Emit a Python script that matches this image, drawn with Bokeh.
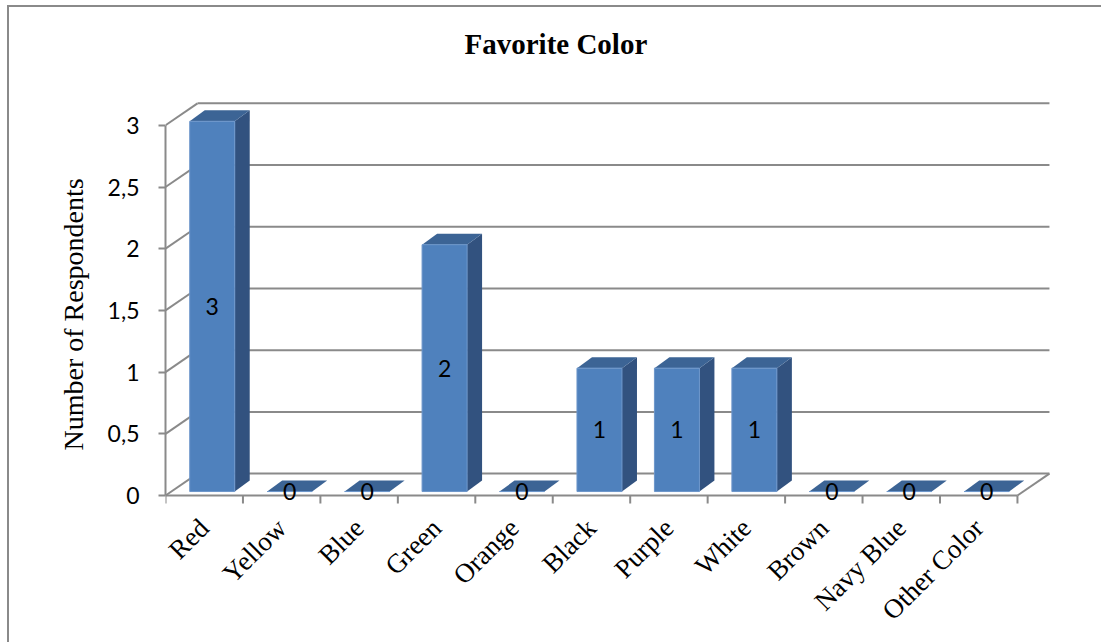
import math
import numpy as np
from bokeh.plotting import figure
from bokeh.models import Range1d, FixedTicker, Title
from bokeh.core.properties import value
from bokeh.embed import file_html
from bokeh.resources import INLINE

# --- data -------------------------------------------------------------
categories = ["Red", "Yellow", "Blue", "Green", "Orange", "Black",
              "Purple", "White", "Brown", "Navy Blue", "Other Color"]
respondents = [3, 0, 0, 2, 0, 1, 1, 1, 0, 0, 0]
y_ticks = [0, 0.5, 1, 1.5, 2, 2.5, 3]
y_tick_labels = ["0", "0,5", "1", "1,5", "2", "2,5", "3"]

# --- pseudo-3D geometry (pixels per data unit and depth offsets) -----
PX_X = 77.45          # one category slot
PX_Y = 123.7          # one respondent
WALL_DX, WALL_DY = 32 / PX_X, 22 / PX_Y        # depth of the back wall
BAR_SHIFT_X, BAR_LIFT = 8 / PX_X, 4 / PX_Y     # bar position inside the box
BAR_HALF = 22.5 / PX_X
BAR_DX, BAR_DY = 15 / PX_X, 11 / PX_Y           # bar thickness
TICK_LEN = 8 / PX_Y

# chart area sits inside a thin left/top border; it runs past the
# right and bottom edges of the page like a cropped sheet
OX, OY = 9, 7
W, H = 1101 - OX + 6, 642 - OY + 6
LEFT, RIGHT, TOP, BOTTOM = 165 - OX, 1060 - OX, 80 - OY, 508 - OY
AXIS_X, AXIS_Y = 165 - OX, 495 - OY      # front corner of the box
GRID_COLOR = "#8a8a8a"

x0 = -0.5 - (AXIS_X - LEFT) / PX_X
y0 = -(BOTTOM - AXIS_Y) / PX_Y

p = figure(width=W, height=H,
           x_range=Range1d(x0, x0 + (RIGHT - LEFT) / PX_X),
           y_range=Range1d(y0, y0 + (BOTTOM - TOP) / PX_Y),
           min_border_left=LEFT, min_border_right=W - RIGHT,
           min_border_top=TOP, min_border_bottom=H - BOTTOM,
           output_backend="svg", toolbar_location=None,
           styles={"margin-left": f"{OX}px", "margin-top": f"{OY}px",
                   "box-shadow": "-2px -2px 0 0 #8a8a8a"})
p.outline_line_color = None
p.xgrid.visible = False
p.ygrid.visible = False
p.background_fill_color = "white"
p.border_fill_color = "white"

# --- titles -------------------------------------------------------------
p.title.text = "Favorite Color"
p.title.text_font = "Liberation Serif"
p.title.text_font_size = "29px"
p.title.text_font_style = "bold"
p.title.text_color = "black"
p.title.align = "left"
p.title.offset = 299
p.title.vertical_align = "top"
p.title.standoff = 40

p.add_layout(Title(text="Number of Respondents", text_font="Liberation Serif",
                   text_font_size="28px", text_font_style="normal",
                   text_color="black", align="left", offset=BOTTOM - 450 + OY,
                   vertical_align="bottom", standoff=32), "left")

# --- back wall, left wall and floor -------------------------------------
n = len(categories)
x_front_left, x_front_right = -0.5, n - 0.5
xb0, xb1 = x_front_left + WALL_DX, x_front_right + WALL_DX

wall_xs, wall_ys = [], []
for v in y_ticks:
    wall_xs.append([xb0, xb1])
    wall_ys.append([v + WALL_DY, v + WALL_DY])
    wall_xs.append([x_front_left, xb0])
    wall_ys.append([v, v + WALL_DY])
wall_xs.append([x_front_right, xb1])
wall_ys.append([0, WALL_DY])
# front edge of the floor and the category divider ticks below it
wall_xs.append([x_front_left, x_front_right])
wall_ys.append([0, 0])
for b in range(n + 1):
    wall_xs.append([b - 0.5, b - 0.5])
    wall_ys.append([0, -TICK_LEN])
p.multi_line(wall_xs, wall_ys, line_color=GRID_COLOR, line_width=2)

# --- bars -----------------------------------------------------------------
idx = np.arange(n)
vals = np.array(respondents, dtype=float)
xl = idx + BAR_SHIFT_X - BAR_HALF
xr = idx + BAR_SHIFT_X + BAR_HALF
yb = np.full(n, BAR_LIFT)
yt = yb + vals

front_xs = [[a, b, b, a] for a, b in zip(xl, xr)]
front_ys = [[c, c, d, d] for c, d in zip(yb, yt)]
side_xs = [[b, b + BAR_DX, b + BAR_DX, b] for b in xr]
side_ys = [[c, c + BAR_DY, d + BAR_DY, d] for c, d in zip(yb, yt)]
top_xs = [[a, b, b + BAR_DX, a + BAR_DX] for a, b in zip(xl, xr)]
top_ys = [[d, d, d + BAR_DY, d + BAR_DY] for d in yt]

for i in range(n):
    p.patches([side_xs[i]], [side_ys[i]], fill_color="#32527f", line_color=None)
    p.patches([top_xs[i]], [top_ys[i]], fill_color="#3c6495", line_color=None)
    p.patches([front_xs[i]], [front_ys[i]], fill_color="#4f81bd",
              line_color="#6d96cb", line_width=1)

# value labels on the front faces
p.text(x=list(idx + BAR_SHIFT_X), y=list(yb + vals / 2),
       text=[str(v) for v in respondents],
       text_font=value("Lato"), text_font_size="23px",
       text_align="center", text_baseline="middle", text_color="black")

# --- y axis ---------------------------------------------------------------
yax = p.yaxis[0]
yax.ticker = FixedTicker(ticks=y_ticks, minor_ticks=[])
yax.major_label_overrides = {t: s for t, s in zip(y_ticks, y_tick_labels)}
yax.bounds = (0, 3)
yax.axis_line_color = GRID_COLOR
yax.axis_line_width = 2
yax.major_tick_line_color = GRID_COLOR
yax.major_tick_line_width = 2
yax.major_tick_in = 0
yax.major_tick_out = 7
yax.minor_tick_line_color = None
yax.major_label_standoff = 19
yax.major_label_text_font = "Lato"
yax.major_label_text_font_size = "23px"
yax.major_label_text_color = "black"

# --- x axis (category names) ---------------------------------------------
xax = p.xaxis[0]
xax.ticker = FixedTicker(ticks=list(range(n)), minor_ticks=[])
xax.major_label_overrides = {i: c for i, c in enumerate(categories)}
xax.axis_line_color = None
xax.major_tick_line_color = None
xax.minor_tick_line_color = None
xax.major_tick_in = 0
xax.major_tick_out = 0
xax.major_label_orientation = math.pi / 4
xax.major_label_standoff = 15
xax.major_label_text_font = "Liberation Serif"
xax.major_label_text_font_size = "27px"
xax.major_label_text_color = "black"

open("out.html", "w").write(file_html(p, INLINE))
